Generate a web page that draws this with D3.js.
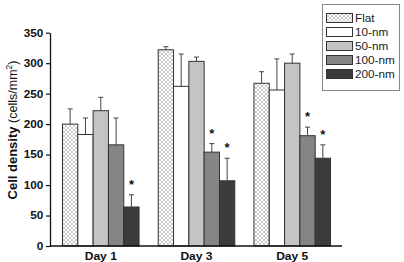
<!DOCTYPE html>
<html>
<head>
<meta charset="utf-8">
<script src="https://cdn.jsdelivr.net/npm/d3@7"></script>
<style>
  body { margin: 0; background: #fff; }
  svg { display: block; font-family: "Liberation Sans", Arial, sans-serif; }
</style>
</head>
<body>
<div id="chart"></div>
<script>
const width = 404;
const height = 262;

// data
const days = ["Day 1", "Day 3", "Day 5"];
const seriesNames = ["Flat", "10-nm", "50-nm", "100-nm", "200-nm"];
const flatMean = [200, 322, 267];
const nm10Mean = [183, 262, 256];
const nm50Mean = [222, 303, 300];
const nm100Mean = [166, 154, 181];
const nm200Mean = [64, 107, 144];
const flatErr = [25, 5, 19];
const nm10Err = [27, 53, 51];
const nm50Err = [22, 7, 15];
const nm100Err = [44, 14, 14];
const nm200Err = [20, 37, 22];
// significance markers: [series, day]
const starMarks = [["200-nm", "Day 1"], ["100-nm", "Day 3"], ["200-nm", "Day 3"], ["100-nm", "Day 5"], ["200-nm", "Day 5"]];
const yTicks = [0, 50, 100, 150, 200, 250, 300, 350];

const means = [flatMean, nm10Mean, nm50Mean, nm100Mean, nm200Mean];
const errs = [flatErr, nm10Err, nm50Err, nm100Err, nm200Err];
const fills = ["url(#hatch)", "#ffffff", "#c4c4c4", "#858585", "#3c3c3c"];

const rows = [];
seriesNames.forEach((s, i) => {
    days.forEach((d, j) => {
        rows.push({ series: s, day: d, value: means[i][j], err: errs[i][j], fill: fills[i] });
    });
});

const svg = d3.select("#chart").append("svg").attr("width", width).attr("height", height);

const defs = svg.append("defs");
const hatch = defs.append("pattern")
    .attr("id", "hatch")
    .attr("patternUnits", "userSpaceOnUse")
    .attr("width", 4).attr("height", 4);
hatch.append("rect").attr("width", 4).attr("height", 4).attr("fill", "#fff");
hatch.append("path").attr("d", "M0,0L4,4M4,0L0,4").attr("stroke", "#b4b4b4").attr("stroke-width", 0.7);

const x0 = d3.scaleBand().domain(days).range([51, 342]).paddingInner(0.2).paddingOuter(0.12);
const x1 = d3.scaleBand().domain(seriesNames).range([0, x0.bandwidth()]);
const y = d3.scaleLinear().domain([0, 350]).range([246, 32.7]);

// bars
svg.append("g").selectAll("rect")
    .data(rows)
    .enter()
    .append("rect")
    .attr("x", d => x0(d.day) + x1(d.series))
    .attr("y", d => y(d.value))
    .attr("width", x1.bandwidth())
    .attr("height", d => y(0) - y(d.value))
    .attr("fill", d => d.fill)
    .attr("stroke", "#333")
    .attr("stroke-width", 1);

// error bars (upper only)
const errG = svg.append("g").attr("stroke", "#444").attr("stroke-width", 1);
rows.forEach(d => {
    const cx = x0(d.day) + x1(d.series) + x1.bandwidth() / 2;
    errG.append("line").attr("x1", cx).attr("x2", cx).attr("y1", y(d.value)).attr("y2", y(d.value + d.err));
    errG.append("line").attr("x1", cx - 2.5).attr("x2", cx + 2.5).attr("y1", y(d.value + d.err)).attr("y2", y(d.value + d.err));
});

// stars
starMarks.forEach(([s, dName]) => {
    const d = rows.find(r => r.series === s && r.day === dName);
    const cx = x0(d.day) + x1(d.series) + x1.bandwidth() / 2;
    svg.append("text")
        .attr("x", cx)
        .attr("y", y(d.value + d.err) - 6)
        .attr("text-anchor", "middle")
        .attr("font-size", 13)
        .attr("font-weight", "bold")
        .attr("fill", "#111")
        .text("*");
});

// y axis
const yAxis = svg.append("g")
    .attr("transform", `translate(50,0)`)
    .call(d3.axisLeft(y).tickValues(yTicks).tickSize(4).tickSizeOuter(0));
yAxis.select(".domain").attr("stroke", "#111").attr("stroke-width", 1.3);
yAxis.selectAll(".tick line").attr("stroke", "#111").attr("stroke-width", 1.2);
yAxis.selectAll(".tick text")
    .attr("font-size", 10.5)
    .attr("font-weight", "bold")
    .attr("fill", "#111")
    .attr("font-family", "Liberation Sans, Arial, sans-serif")
    .attr("x", -6)
    .attr("transform", "scale(1.12,1)");

// x axis baseline and labels
svg.append("line")
    .attr("x1", 50).attr("x2", 342)
    .attr("y1", y(0)).attr("y2", y(0))
    .attr("stroke", "#111").attr("stroke-width", 1.3);

svg.append("g").selectAll("text")
    .data(days)
    .enter()
    .append("text")
    .attr("transform", d => `translate(${x0(d) + x0.bandwidth() / 2},260) scale(1.15,1)`)
    .attr("text-anchor", "middle")
    .attr("font-size", 10.5)
    .attr("font-weight", "bold")
    .attr("fill", "#111")
    .text(d => d);

// y label
const yLabel = svg.append("text")
    .attr("transform", "translate(17,130) rotate(-90)")
    .attr("text-anchor", "middle")
    .attr("fill", "#111");
yLabel.append("tspan").attr("font-weight", "bold").attr("font-size", 13).text("Cell density ");
yLabel.append("tspan").attr("font-size", 12.5).text("(cells/mm");
yLabel.append("tspan").attr("font-size", 8.5).attr("dy", -5).text("2");
yLabel.append("tspan").attr("font-size", 12.5).attr("dy", 5).text(")");

// legend
const legend = svg.append("g");
legend.append("rect")
    .attr("x", 322.5).attr("y", 4.5)
    .attr("width", 77).attr("height", 86)
    .attr("fill", "#fff")
    .attr("stroke", "#888").attr("stroke-width", 1);
seriesNames.forEach((s, i) => {
    const rowY = 13.5 + i * 14;
    legend.append("rect")
        .attr("x", 326.5).attr("y", rowY)
        .attr("width", 26).attr("height", 9)
        .attr("fill", fills[i])
        .attr("stroke", "#333").attr("stroke-width", 1);
    legend.append("text")
        .attr("transform", `translate(355,${rowY + 8.5}) scale(1.12,1)`)
        .attr("font-size", 10.5)
        .attr("fill", "#222")
        .text(s);
});
</script>
</body>
</html>
